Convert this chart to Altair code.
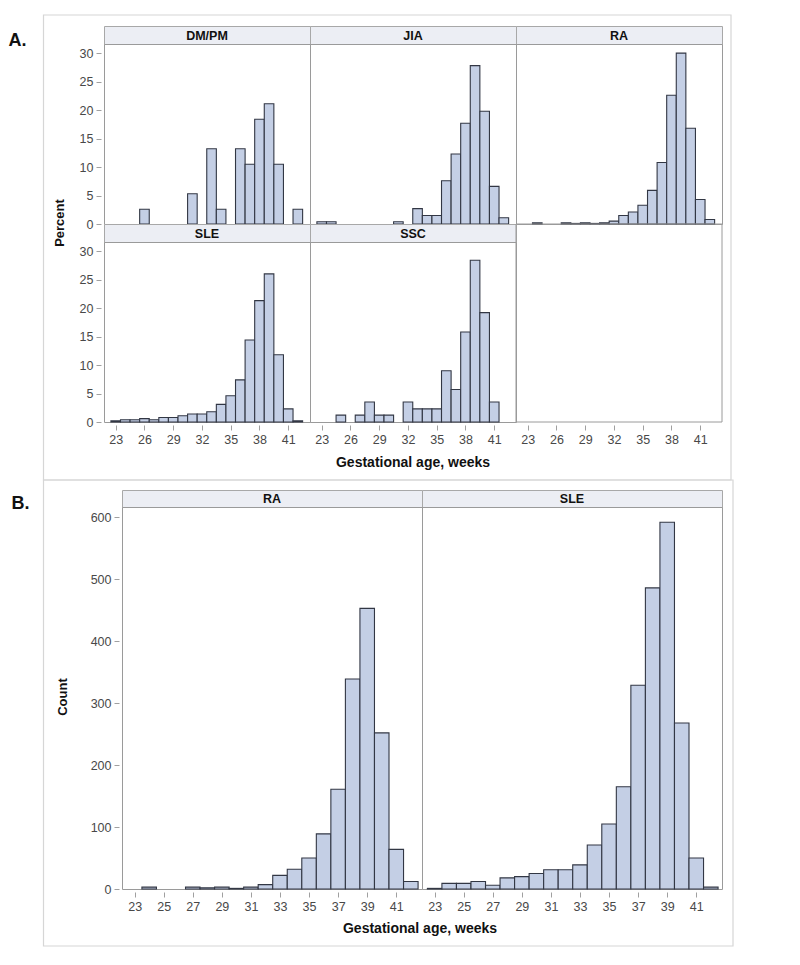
import altair as alt
import pandas as pd

# ---------------- data ----------------
WEEKS = list(range(23, 43))

A_LABELS = ["DM/PM", "JIA", "RA", "SLE", "SSC"]
A_DMPM = [0, 0, 0, 2.6, 0, 0, 0, 0, 5.3, 0, 13.2, 2.6, 0, 13.2, 10.5, 18.4, 21.1, 10.5, 0, 2.6]
A_JIA = [0.4, 0.4, 0, 0, 0, 0, 0, 0, 0.4, 0, 2.7, 1.5, 1.5, 7.6, 12.3, 17.7, 27.8, 19.8, 6.6, 1.1]
A_RA = [0, 0.2, 0, 0, 0.2, 0.1, 0.2, 0.1, 0.2, 0.5, 1.5, 2.1, 3.3, 5.9, 10.8, 22.6, 30.0, 16.8, 4.3, 0.8]
A_SLE = [0.2, 0.4, 0.4, 0.6, 0.4, 0.8, 0.8, 1.1, 1.4, 1.4, 1.8, 3.1, 4.6, 7.4, 14.4, 21.3, 26.0, 11.8, 2.3, 0.2]
A_SSC = [0, 0, 1.2, 0, 1.2, 3.5, 1.2, 1.2, 0, 3.5, 2.3, 2.3, 2.3, 9.0, 5.7, 15.8, 28.4, 19.2, 3.5, 0]
A_X_TICKS = [23, 26, 29, 32, 35, 38, 41]
A_Y_TICKS = [0, 5, 10, 15, 20, 25, 30]

B_LABELS = ["RA", "SLE"]
B_RA = [0, 3, 0, 0, 3, 2, 3, 1, 3, 7, 22, 32, 50, 89, 161, 339, 453, 252, 64, 12]
B_SLE = [1, 9, 9, 12, 6, 18, 20, 25, 31, 31, 39, 71, 105, 165, 329, 486, 592, 268, 50, 3]
B_X_TICKS = [23, 25, 27, 29, 31, 33, 35, 37, 39, 41]
B_Y_TICKS = [0, 100, 200, 300, 400, 500, 600]

X_TITLE = "Gestational age, weeks"

# ---------------- style ----------------
FILL = "#c4cfe5"
EDGE = "#323744"
BORDER = "#9a9a9a"
HEAD_FILL = "#eceef4"
FRAME = "#d6d6d6"
FONT = "Liberation Sans"

A_W, A_PH, A_HH = 206, 180, 18
A_XDOM = [21.78, 43.27]
A_YDOM = [0, 31.6]
B_W, B_PH, B_HH = 300, 382, 17
B_XDOM = [22.13, 42.77]
B_YDOM = [0, 616.6]
B_SHIFT = 18


def bar_frame(values):
    df = pd.DataFrame({"week": WEEKS, "value": values})
    return df[df["value"] > 0]


def text_layer(text, x, y, size, bold=True, angle=0):
    kw = dict(font=FONT, fontSize=size, fontWeight="bold" if bold else "normal",
              color="#111111", align="center", baseline="middle")
    if angle:
        kw["angle"] = angle
    return alt.Chart(pd.DataFrame({"t": [text]})).mark_text(**kw).encode(
        x=alt.value(x), y=alt.value(y), text="t:N")


def frame_layer(x1, x2, y1, y2, color=FRAME, sw=1.2):
    return alt.Chart(pd.DataFrame({"k": [0]})).mark_rect(
        fill="white", fillOpacity=0, stroke=color, strokeWidth=sw).encode(
        x=alt.value(x1), x2=alt.value(x2), y=alt.value(y1), y2=alt.value(y2))


def blank(w, h):
    return alt.Chart(pd.DataFrame({"k": [0]})).mark_point(opacity=0).encode(
        x=alt.value(0), y=alt.value(0)).properties(
        width=w, height=h, view=alt.ViewBackground(stroke="transparent"))


def plot_cell(values, w, h, xdom, ydom, xticks, yticks, show_x, show_y, extra=(),
              invisible=False, view=None):
    df = bar_frame(values) if not invisible else pd.DataFrame({"week": [30], "value": [1.0]})
    xa = alt.Axis(values=xticks, format="d", title=None) if show_x else None
    ya = alt.Axis(values=yticks, format="d", title=None) if show_y else None
    bars = alt.Chart(df).transform_calculate(
        lo="datum.week - 0.5", hi="datum.week + 0.5"
    ).mark_bar(fill=FILL, stroke=EDGE, strokeWidth=1.1, opacity=0 if invisible else 1).encode(
        x=alt.X("lo:Q", scale=alt.Scale(domain=xdom, nice=False, zero=False), axis=xa),
        x2="hi:Q",
        y=alt.Y("value:Q", scale=alt.Scale(domain=ydom, nice=False), axis=ya),
        y2=alt.datum(0),
    )
    props = dict(width=w, height=h)
    if view is not None:
        props["view"] = view
    return alt.layer(bars, *extra).properties(**props)


def header_cell(label, w, h, extra=()):
    lab = text_layer(label, w / 2, h / 2 + 0.5, 12.5)
    return alt.layer(*extra, lab).properties(
        width=w, height=h, view=alt.ViewBackground(fill=HEAD_FILL, stroke="#a8a8a8"))


# ---------------- panel A ----------------
h_dm = header_cell(A_LABELS[0], A_W, A_HH, extra=(
    frame_layer(-60.5, 627, -11, 454),
    text_layer("A.", -86.5, 14.5, 18),
))
p_dm = plot_cell(A_DMPM, A_W, A_PH, A_XDOM, A_YDOM, A_X_TICKS, A_Y_TICKS, False, True,
                 extra=(text_layer("Percent", -44, 179, 13, angle=270),))
p_jia = plot_cell(A_JIA, A_W, A_PH, A_XDOM, A_YDOM, A_X_TICKS, A_Y_TICKS, False, False)
p_ra = plot_cell(A_RA, A_W, A_PH, A_XDOM, A_YDOM, A_X_TICKS, A_Y_TICKS, False, False)
p_sle = plot_cell(A_SLE, A_W, A_PH, A_XDOM, A_YDOM, A_X_TICKS, A_Y_TICKS, True, True)
p_ssc = plot_cell(A_SSC, A_W, A_PH, A_XDOM, A_YDOM, A_X_TICKS, A_Y_TICKS, True, False,
                  extra=(text_layer(X_TITLE, 103, 221, 14),))
p_empty = plot_cell(A_SSC, A_W, A_PH, A_XDOM, A_YDOM, A_X_TICKS, A_Y_TICKS, True, False,
                    invisible=True,
                    extra=(frame_layer(0, A_W, -A_HH, A_PH, color=BORDER, sw=1),),
                    view=alt.ViewBackground(stroke="transparent"))

panel_a = alt.concat(
    h_dm, header_cell(A_LABELS[1], A_W, A_HH), header_cell(A_LABELS[2], A_W, A_HH),
    p_dm, p_jia, p_ra,
    header_cell(A_LABELS[3], A_W, A_HH), header_cell(A_LABELS[4], A_W, A_HH), blank(A_W, A_HH),
    p_sle, p_ssc, p_empty,
    columns=3, spacing=0, bounds="flush")

# ---------------- panel B ----------------
h_bra = header_cell(B_LABELS[0], B_W, B_HH, extra=(
    frame_layer(-78.5, 611, -10, 456),
    text_layer("B.", -101.5, 13.5, 18),
))
p_bra = plot_cell(B_RA, B_W, B_PH, B_XDOM, B_YDOM, B_X_TICKS, B_Y_TICKS, True, True,
                  extra=(text_layer("Count", -59, 190, 13, angle=270),
                         text_layer(X_TITLE, 298, 422, 14)))
p_bsle = plot_cell(B_SLE, B_W, B_PH, B_XDOM, B_YDOM, B_X_TICKS, B_Y_TICKS, True, False)

panel_b = alt.concat(
    blank(B_SHIFT, B_HH), h_bra, header_cell(B_LABELS[1], B_W, B_HH),
    blank(B_SHIFT, B_PH), p_bra, p_bsle,
    columns=3, spacing=0, bounds="flush")

chart = alt.vconcat(panel_a, panel_b, spacing=-4).properties(
    padding={"left": 0, "top": 5, "right": 5, "bottom": 5},
    background="white",
).configure_view(
    stroke=BORDER, strokeWidth=1
).configure_axis(
    grid=False, domain=False, labelFont=FONT, labelFontSize=12.5, labelColor="#484848",
    tickColor="#a0a0a0", tickSize=5, offset=3, labelPadding=3,
)

chart.save("out.html", embed_options={"renderer": "svg", "actions": False})
